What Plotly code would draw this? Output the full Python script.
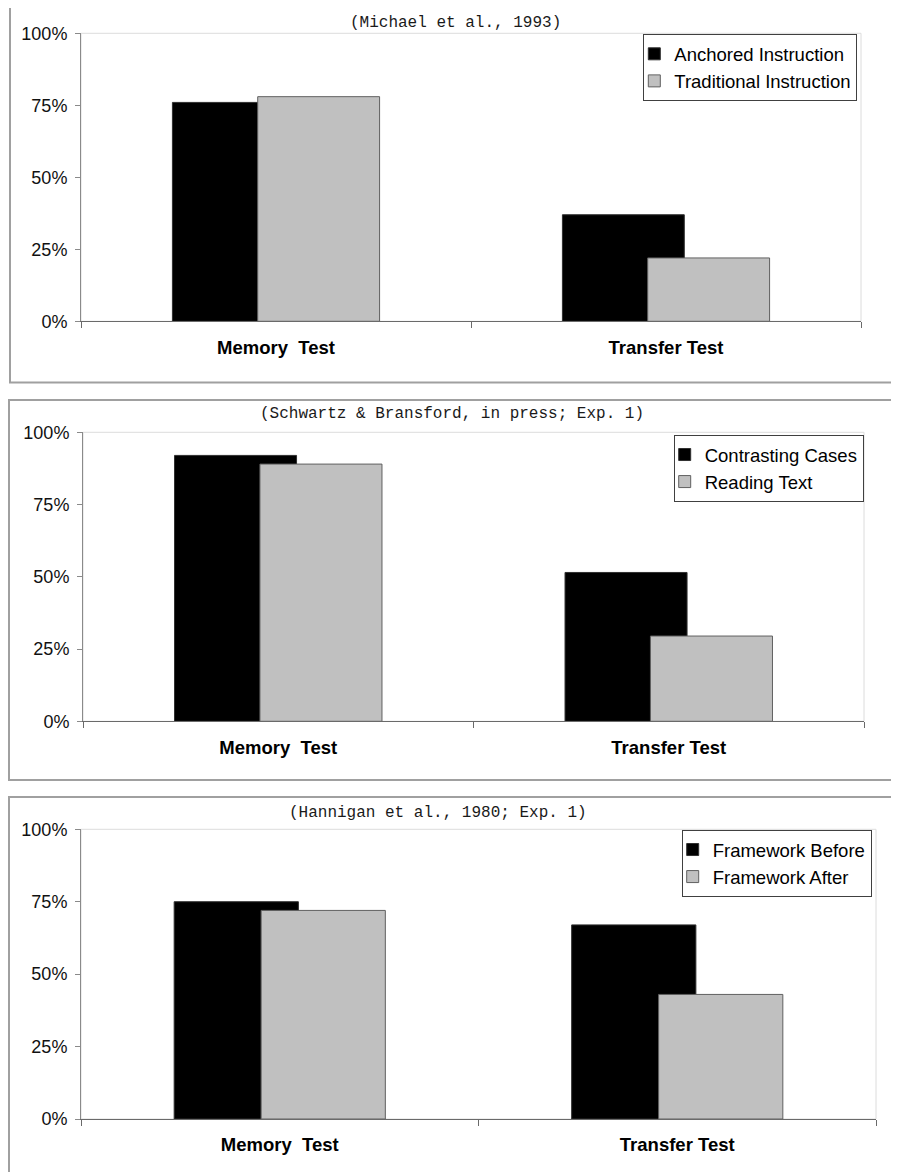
import plotly.graph_objects as go

# ---------------- data ----------------
categories = ["Memory\u00a0 Test", "Transfer Test"]
titles = [
    "(Michael et al., 1993)",
    "(Schwartz & Bransford, in press; Exp. 1)",
    "(Hannigan et al., 1980; Exp. 1)",
]
dark_names = ["Anchored Instruction", "Contrasting Cases", "Framework Before"]
light_names = ["Traditional Instruction", "Reading Text", "Framework After"]
panel1_dark = [0.76, 0.37]
panel1_light = [0.78, 0.22]
panel2_dark = [0.92, 0.515]
panel2_light = [0.89, 0.295]
panel3_dark = [0.75, 0.67]
panel3_light = [0.72, 0.43]
ytick_vals = [0, 0.25, 0.5, 0.75, 1.0]
ytick_text = ["0%", "25%", "50%", "75%", "100%"]

dark_values = [panel1_dark, panel2_dark, panel3_dark]
light_values = [panel1_light, panel2_light, panel3_light]

# ---------------- layout geometry (page pixels) ----------------
W, H = 899, 1172
PAGE_OFF = 8  # default page margin around the figure

def fx(p):
    return (p - PAGE_OFF) / W

def fy(p):
    return 1 - (p - PAGE_OFF) / H

# plot areas: (left, right, top, bottom)
plot_areas = [(81, 861, 33.3, 321.3), (83, 864, 432.3, 721.3), (81, 876, 829.3, 1119)]
# panel frames: (left, right, top, bottom)
frames = [(10, 930, 4, 382.5), (9, 930, 400, 780), (9, 930, 797, 1210)]
title_pos = [(455, 23.3), (451.5, 414), (438, 812.7)]
legend_pos = [(857.3, 34.3), (863.7, 435), (871.7, 830)]

BAR_W = 0.3125
OFF_DARK = -0.2656
OFF_LIGHT = -0.0469

SANS = "Liberation Sans, Arial, sans-serif"
MONO = "Liberation Mono, Courier New, monospace"

fig = go.Figure()
layout = dict(
    width=W, height=H,
    margin=dict(l=0, r=0, t=0, b=0, autoexpand=False),
    paper_bgcolor="white", plot_bgcolor="white",
    barmode="overlay",
    showlegend=True,
    font=dict(family=SANS, color="black"),
)
shapes = []
annotations = []

for i in range(3):
    sfx = "" if i == 0 else str(i + 1)
    xa, ya = "x" + sfx, "y" + sfx
    lg = "legend" + sfx
    fig.add_trace(go.Bar(
        x=categories, y=dark_values[i], name=dark_names[i],
        width=BAR_W, offset=OFF_DARK,
        marker=dict(color="black", line=dict(color="#303030", width=1)),
        xaxis=xa, yaxis=ya, legend=lg, hoverinfo="skip",
    ))
    fig.add_trace(go.Bar(
        x=categories, y=light_values[i], name=light_names[i],
        width=BAR_W, offset=OFF_LIGHT,
        marker=dict(color="#c0c0c0", line=dict(color="#606060", width=1)),
        xaxis=xa, yaxis=ya, legend=lg, hoverinfo="skip",
    ))
    l, r, t, b = plot_areas[i]
    layout["xaxis" + sfx] = dict(
        domain=[fx(l), fx(r)], anchor=ya, type="category", range=[-0.5, 1.5],
        showline=True, linecolor="#6a6a6a", linewidth=1,
        ticks="outside", tickson="boundaries", ticklen=6, tickcolor="#6a6a6a",
        tickfont=dict(family=SANS, size=18.5, color="black", weight="bold"),
        ticklabelstandoff=9, automargin=False,
        showgrid=False, zeroline=False, fixedrange=True,
    )
    layout["yaxis" + sfx] = dict(
        domain=[fy(b), fy(t)], anchor=xa, range=[0, 1],
        tickvals=ytick_vals, ticktext=ytick_text,
        showline=True, linecolor="#8a8a8a", linewidth=1,
        ticks="outside", ticklen=5, tickcolor="#8a8a8a",
        tickfont=dict(family=SANS, size=18, color="#111111"),
        ticklabelstandoff=4, automargin=False,
        showgrid=False, zeroline=False, fixedrange=True,
    )
    lx, ly = legend_pos[i]
    layout[lg] = dict(
        x=fx(lx), xanchor="right", y=fy(ly), yanchor="top",
        bgcolor="white", bordercolor="#404040", borderwidth=1,
        font=dict(family=SANS, size=18.5, color="black"),
        tracegroupgap=0, itemclick=False, itemdoubleclick=False,
        indentation=-10,
    )
    # plot-area light frame
    shapes.append(dict(type="rect", xref=xa + " domain", yref=ya + " domain",
                       x0=0, x1=1, y0=0, y1=1,
                       line=dict(color="#dcdcdc", width=1), layer="below"))
    # panel frame
    fl, fr, ft, fb = frames[i]
    shapes.append(dict(type="rect", xref="paper", yref="paper",
                       x0=fx(fl), x1=fx(fr), y0=fy(fb), y1=fy(ft),
                       line=dict(color="#a0a0a0", width=2), layer="below"))
    tx, ty = title_pos[i]
    annotations.append(dict(text=titles[i], xref="paper", yref="paper",
                            x=fx(tx), y=fy(ty), xanchor="center", yanchor="middle",
                            showarrow=False,
                            font=dict(family=MONO, size=16, color="#1a1a1a")))

layout["shapes"] = shapes
layout["annotations"] = annotations
fig.update_layout(**layout)
fig.write_html("out.html")
